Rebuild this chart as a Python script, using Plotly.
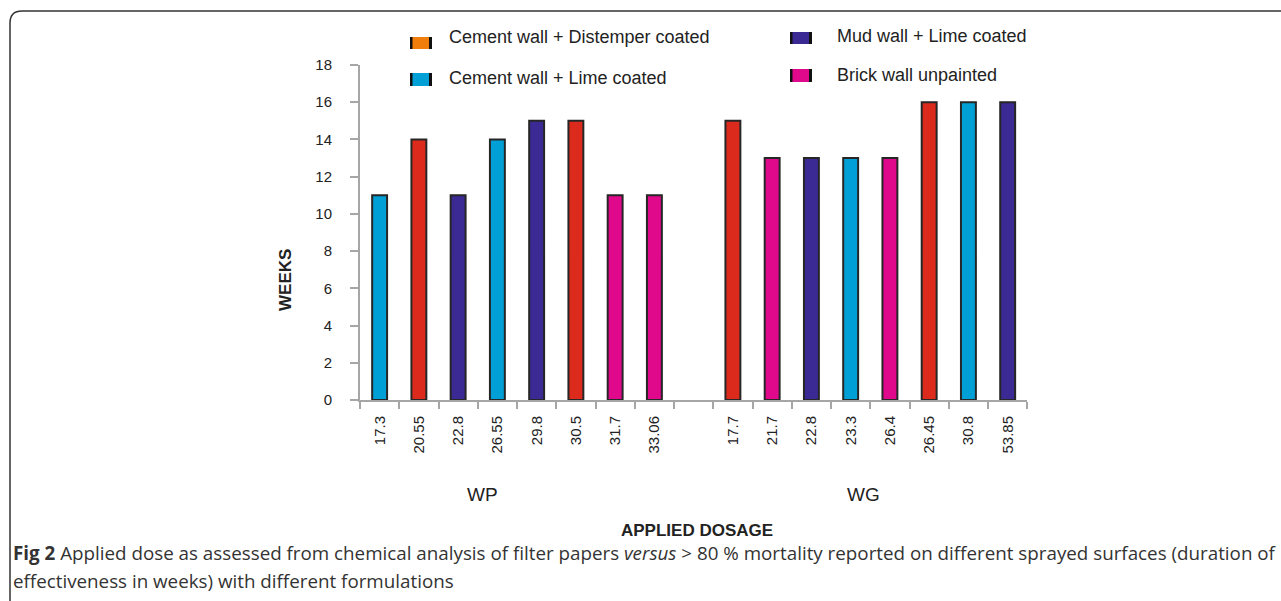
import plotly.graph_objects as go

# ---------------- data ----------------
surfaces = ["Cement wall + Distemper coated", "Cement wall + Lime coated",
            "Mud wall + Lime coated", "Brick wall unpainted"]
bar_colors = {"Cement wall + Distemper coated": "#dc2b1c",
              "Cement wall + Lime coated": "#00a0d6",
              "Mud wall + Lime coated": "#3b2a94",
              "Brick wall unpainted": "#e0088b"}
legend_colors = {"Cement wall + Distemper coated": "#f17e0a",
                 "Cement wall + Lime coated": "#00a0d6",
                 "Mud wall + Lime coated": "#3b2a94",
                 "Brick wall unpainted": "#e0088b"}

wp_doses = ["17.3", "20.55", "22.8", "26.55", "29.8", "30.5", "31.7", "33.06"]
wp_weeks = [11, 14, 11, 14, 15, 15, 11, 11]
wp_surface = ["Cement wall + Lime coated", "Cement wall + Distemper coated",
              "Mud wall + Lime coated", "Cement wall + Lime coated",
              "Mud wall + Lime coated", "Cement wall + Distemper coated",
              "Brick wall unpainted", "Brick wall unpainted"]

wg_doses = ["17.7", "21.7", "22.8", "23.3", "26.4", "26.45", "30.8", "53.85"]
wg_weeks = [15, 13, 13, 13, 13, 16, 16, 16]
wg_surface = ["Cement wall + Distemper coated", "Brick wall unpainted",
              "Mud wall + Lime coated", "Cement wall + Lime coated",
              "Brick wall unpainted", "Cement wall + Distemper coated",
              "Cement wall + Lime coated", "Mud wall + Lime coated"]

y_ticks = [0, 2, 4, 6, 8, 10, 12, 14, 16, 18]

caption_1 = ("<b>Fig 2</b> Applied dose as assessed from chemical analysis of filter papers "
             "<i>versus</i> &gt; 80 % mortality reported on different sprayed surfaces (duration of")
caption_2 = "effectiveness in weeks) with different formulations"

# ---------------- layout helpers ----------------
W, H = 1281, 601
def px(x):
    return x / W
def py(y):
    return 1 - y / H

FONT = "Liberation Sans, Arial, sans-serif"
CAP_FONT = "Open Sans, sans-serif"
TXT = "#222222"
AX = "#a6a6a6"

gap = 1
wp_x = list(range(len(wp_doses)))
wg_x = [len(wp_doses) + gap + i for i in range(len(wg_doses))]
n_slots = len(wp_doses) + gap + len(wg_doses)
boundaries = [i - 0.5 for i in range(n_slots + 1)]

fig = go.Figure()
fig.add_trace(go.Bar(x=wp_x, y=wp_weeks, width=0.38,
                     marker=dict(color=[bar_colors[s] for s in wp_surface],
                                 line=dict(color="#262626", width=2)),
                     showlegend=False, hoverinfo="skip"))
fig.add_trace(go.Bar(x=wg_x, y=wg_weeks, width=0.38,
                     marker=dict(color=[bar_colors[s] for s in wg_surface],
                                 line=dict(color="#262626", width=2)),
                     showlegend=False, hoverinfo="skip"))

fig.update_layout(
    width=W, height=H, autosize=False,
    margin=dict(l=0, r=0, t=0, b=0, pad=0, autoexpand=False),
    paper_bgcolor="white", plot_bgcolor="white",
    font=dict(family=FONT, color=TXT),
    xaxis=dict(domain=[px(360), px(1027.3)], range=[-0.5, n_slots - 0.5],
               automargin=False,
               tickmode="array", tickvals=wp_x + wg_x, ticktext=wp_doses + wg_doses,
               tickangle=-90, ticks="", tickfont=dict(size=15, color=TXT),
               ticklabelstandoff=8,
               showline=True, linecolor=AX, linewidth=2, showgrid=False, zeroline=False,
               minor=dict(tickmode="array", tickvals=boundaries, ticks="outside",
                          ticklen=7, tickwidth=2, tickcolor=AX, showgrid=False)),
    yaxis=dict(domain=[py(400), py(65)], range=[0, 18], automargin=False,
               tickmode="array", tickvals=y_ticks,
               ticks="outside", ticklen=8, tickwidth=2, tickcolor=AX,
               tickfont=dict(size=15, color=TXT), ticklabelstandoff=15,
               showline=True, linecolor=AX, linewidth=2, showgrid=False, zeroline=False),
)

shapes = []
annotations = []

# legend (custom swatches)
legend_pos = [
    ("Cement wall + Distemper coated", 410, 37, 49, 447, 37),
    ("Cement wall + Lime coated", 410, 73, 86, 447, 78),
    ("Mud wall + Lime coated", 790, 32, 44, 835, 36),
    ("Brick wall unpainted", 790, 69, 82, 835, 75),
]
for name, x0, y0, y1, tx, ty in legend_pos:
    shapes.append(dict(type="rect", xref="paper", yref="paper",
                       x0=px(x0), x1=px(x0 + 22), y0=py(y1), y1=py(y0),
                       fillcolor=legend_colors[name], line=dict(width=0)))
    shapes.append(dict(type="rect", xref="paper", yref="paper",
                       x0=px(x0), x1=px(x0 + 2.5), y0=py(y1), y1=py(y0),
                       fillcolor="#111111", line=dict(width=0)))
    shapes.append(dict(type="rect", xref="paper", yref="paper",
                       x0=px(x0 + 19), x1=px(x0 + 22), y0=py(y1), y1=py(y0),
                       fillcolor="#111111", line=dict(width=0)))
    annotations.append(dict(text=name, xref="paper", yref="paper", x=px(tx), y=py(ty),
                            xanchor="left", yanchor="middle", showarrow=False,
                            font=dict(size=18, color=TXT, family=FONT)))

# axis titles
annotations.append(dict(text="<b>WEEKS</b>", xref="paper", yref="paper", x=px(285), y=py(280),
                        textangle=-90, showarrow=False, xanchor="center", yanchor="middle",
                        font=dict(size=17, color=TXT, family=FONT)))
annotations.append(dict(text="WP", xref="paper", yref="paper", x=px(483), y=py(494),
                        showarrow=False, xanchor="center", yanchor="middle",
                        font=dict(size=19, color=TXT, family=FONT)))
annotations.append(dict(text="WG", xref="paper", yref="paper", x=px(863), y=py(494),
                        showarrow=False, xanchor="center", yanchor="middle",
                        font=dict(size=19, color=TXT, family=FONT)))
annotations.append(dict(text="<b>APPLIED DOSAGE</b>", xref="paper", yref="paper",
                        x=px(697), y=py(530), showarrow=False, xanchor="center",
                        yanchor="middle", font=dict(size=17, color=TXT, family=FONT)))

# caption
annotations.append(dict(text=caption_1, xref="paper", yref="paper", x=px(11), y=py(553),
                        showarrow=False, xanchor="left", yanchor="middle",
                        font=dict(size=18.8, color="#333333", family=CAP_FONT)))
annotations.append(dict(text=caption_2, xref="paper", yref="paper", x=px(11), y=py(581),
                        showarrow=False, xanchor="left", yanchor="middle",
                        font=dict(size=18.8, color="#333333", family=CAP_FONT)))

# rounded frame (top + left)
path = (f"M {px(10)},{py(601)} L {px(10)},{py(23)} "
        f"Q {px(10)},{py(11)} {px(22)},{py(11)} L {px(1281)},{py(11)}")
shapes.append(dict(type="path", xref="paper", yref="paper", path=path,
                   line=dict(color="#333333", width=1.5)))

fig.update_layout(shapes=shapes, annotations=annotations)
fig.write_html("out.html", config={"displayModeBar": False},
               post_script="document.body.style.margin='0';document.body.style.overflow='hidden';")
